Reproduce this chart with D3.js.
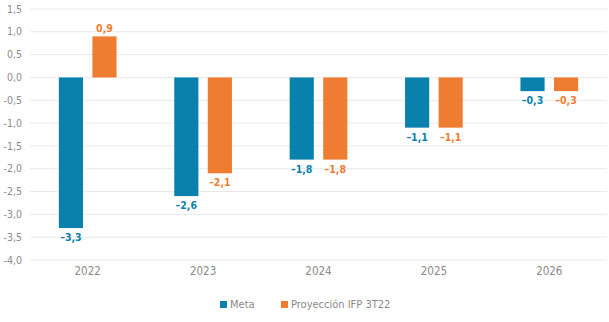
<!DOCTYPE html>
<html lang="es">
<head>
<meta charset="utf-8">
<title>Meta vs Proyección IFP 3T22</title>
<script src="https://d3js.org/d3.v7.min.js"></script>
<style>
  body { margin: 0; background: #fff; }
  svg { display: block; font-family: "DejaVu Sans Condensed", "DejaVu Sans", sans-serif; }
</style>
</head>
<body>
<div id="chart"></div>
<script>
// Datos
var years = ["2022", "2023", "2024", "2025", "2026"];
var meta = [-3.3, -2.6, -1.8, -1.1, -0.3];
var proyeccion = [0.9, -2.1, -1.8, -1.1, -0.3];
var seriesNames = ["Meta", "Proyección IFP 3T22"];
var yTicks = [1.5, 1.0, 0.5, 0.0, -0.5, -1.0, -1.5, -2.0, -2.5, -3.0, -3.5, -4.0];

var colors = ["#0a81ad", "#ef7d31"];
var width = 609, height = 322;
var margin = {top: 9, right: 2, bottom: 62, left: 30};

var svg = d3.select("#chart").append("svg")
    .attr("width", width)
    .attr("height", height);

var y = d3.scaleLinear()
    .domain([-4, 1.5])
    .range([height - margin.bottom, margin.top]);

var x = d3.scaleBand()
    .domain(years)
    .range([margin.left, width - margin.right])
    .paddingInner(0.5)
    .paddingOuter(0.25);

var xs = d3.scaleBand()
    .domain([0, 1])
    .range([0, x.bandwidth()])
    .paddingInner(0.28);

var fmt = function(v) {
    var s = Math.abs(v).toFixed(1).replace(".", ",");
    return v < 0 ? "–" + s : s;
};

// grid
svg.append("g")
    .selectAll("line")
    .data(yTicks)
    .enter().append("line")
    .attr("x1", margin.left)
    .attr("x2", width - margin.right)
    .attr("y1", d => y(d))
    .attr("y2", d => y(d))
    .attr("stroke", "#e8e8e8")
    .attr("stroke-width", 1);

// y labels
svg.append("g")
    .selectAll("text")
    .data(yTicks)
    .enter().append("text")
    .attr("x", 22)
    .attr("y", d => y(d))
    .attr("dy", "0.35em")
    .attr("text-anchor", "end")
    .attr("fill", "#8a8a8a")
    .attr("font-size", 10.5)
    .text(d => d.toFixed(1).replace(".", ","));

// bars
var data = [meta, proyeccion];
data.forEach(function(vals, s) {
    var g = svg.append("g");
    g.selectAll("rect")
        .data(vals)
        .enter().append("rect")
        .attr("x", (d, i) => x(years[i]) + xs(s))
        .attr("width", xs.bandwidth())
        .attr("y", d => y(Math.max(0, d)))
        .attr("height", d => Math.abs(y(d) - y(0)))
        .attr("fill", colors[s]);
    g.selectAll("text")
        .data(vals)
        .enter().append("text")
        .attr("x", (d, i) => x(years[i]) + xs(s) + xs.bandwidth() / 2)
        .attr("y", d => d < 0 ? y(d) + 13 : y(d) - 4)
        .attr("text-anchor", "middle")
        .attr("fill", colors[s])
        .attr("font-size", 10.5)
        .attr("font-weight", "bold")
        .text(d => fmt(d));
});

// x labels
svg.append("g")
    .selectAll("text")
    .data(years)
    .enter().append("text")
    .attr("x", d => x(d) + x.bandwidth() / 2)
    .attr("y", 275)
    .attr("text-anchor", "middle")
    .attr("fill", "#8a8a8a")
    .attr("font-size", 11.5)
    .text(d => d);

// legend
var legend = svg.append("g").attr("transform", "translate(220,308)");
var lx = [0, 61];
seriesNames.forEach(function(name, i) {
    legend.append("rect")
        .attr("x", lx[i])
        .attr("y", -7)
        .attr("width", 7)
        .attr("height", 7)
        .attr("fill", colors[i]);
    legend.append("text")
        .attr("x", lx[i] + 10)
        .attr("y", 0)
        .attr("fill", "#8a8a8a")
        .attr("font-size", 11)
        .text(name);
});
</script>
</body>
</html>
